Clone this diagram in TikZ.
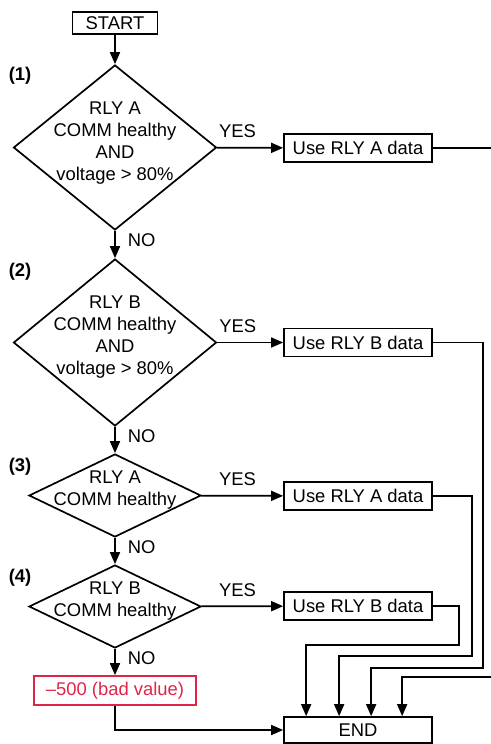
\documentclass[tikz,border=0pt]{standalone}
\usepackage{fontspec}
\setmainfont{Liberation Sans}
\usepackage{xcolor}
\usepackage{tikz}
\usetikzlibrary{shapes,arrows.meta}
\usetikzlibrary{positioning}
\usetikzlibrary{calc}
\definecolor{badred}{RGB}{224,36,72}

\begin{document}
\begin{tikzpicture}[x=1pt,y=-1pt,
        font=\fontsize{18.4}{22}\selectfont,
        box/.style={draw,line width=1.7pt,inner sep=0pt,minimum width=148pt,minimum height=28pt},
        test/.style={diamond,draw,line width=1.7pt,inner sep=0pt},
        dtext/.style={align=center,inner sep=0pt},
        flow/.style={line width=1.7pt,-{Triangle[length=12pt,width=10pt]}},
        lbl/.style={inner sep=1pt},
        stepno/.style={inner sep=0pt,font=\fontsize{18.4}{22}\selectfont\bfseries}]
        \useasboundingbox (0,0) rectangle (490,744);
        % decisions down the left
        \node[box,minimum width=85pt,minimum height=22pt] (start) at (115,23) {START};
        \node[test,minimum width=203pt,minimum height=165pt] (d1) at (115,147.5) {};
        \node[dtext] (d1t) at (115,143.5) {RLY A\\COMM healthy\\AND\\voltage > 80\%};
        \node[test,minimum width=203pt,minimum height=167pt] (d2) at (115,342.5) {};
        \node[dtext] (d2t) at (115,337.5) {RLY B\\COMM healthy\\AND\\voltage > 80\%};
        \node[test,minimum width=172pt,minimum height=83pt] (d3) at (115,495.5) {};
        \node[dtext] (d3t) at (115,490) {RLY A\\COMM healthy};
        \node[test,minimum width=172pt,minimum height=83pt] (d4) at (115,606.5) {};
        \node[dtext] (d4t) at (115,601) {RLY B\\COMM healthy};
        \node[box,draw=badred,text=badred,minimum width=162pt,minimum height=29pt] (bad) at (115,690.5) {--500 (bad value)};
        \node[stepno] (n1) at (20,76) {(1)};
        \node[stepno] (n2) at (20,272) {(2)};
        \node[stepno] (n3) at (20,467) {(3)};
        \node[stepno] (n4) at (20,578) {(4)};
        % data sources on the right
        \node[box] (u1) at (358,148) {Use RLY A data};
        \node[box] (u2) at (358,342.5) {Use RLY B data};
        \node[box] (u3) at (358,496) {Use RLY A data};
        \node[box] (u4) at (358,606) {Use RLY B data};
        \node[box,minimum height=26pt] (end) at (358,730) {END};
        % flow
        \draw[flow] (start) -- (d1);
        \draw[flow] (d1) -- node[lbl,right=11pt,pos=0.35] (no1) {NO} (d2);
        \draw[flow] (d2) -- node[lbl,right=11pt,pos=0.35] (no2) {NO} (d3);
        \draw[flow] (d3) -- node[lbl,right=11pt,pos=0.35] (no3) {NO} (d4);
        \draw[flow] (d4) -- node[lbl,right=11pt,pos=0.35] (no4) {NO} (bad);
        \draw[flow] (d1) -- node[lbl,above=8pt,pos=0.31] (yes1) {YES} (u1);
        \draw[flow] (d2) -- node[lbl,above=8pt,pos=0.31] (yes2) {YES} (u2);
        \draw[flow] (d3) -- node[lbl,above=8pt,pos=0.44] (yes3) {YES} (u3);
        \draw[flow] (d4) -- node[lbl,above=8pt,pos=0.44] (yes4) {YES} (u4);
        \draw[flow] (u4.east) -- ++(26,0) -- ++(0,39) -| ($(end.north west)+(23,0)$);
        \draw[flow] (u3.east) -- ++(39,0) -- ++(0,160) -| ($(end.north west)+(56,0)$);
        \draw[flow] (u2.east) -- ++(50,0) -- ++(0,325.5) -| ($(end.north west)+(88,0)$);
        \draw[flow] (u1.east) -- ++(70,0) -- ++(0,529) -| ($(end.north west)+(119,0)$);
        \draw[flow] (bad) |- (end);
    \end{tikzpicture}
\end{document}
